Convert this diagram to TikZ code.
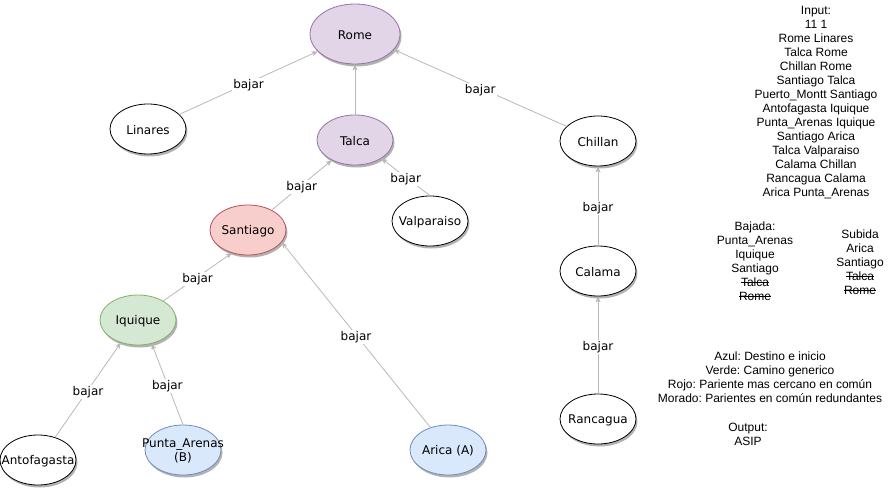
\documentclass[tikz,border=0pt]{standalone}
\usepackage{fontspec}
\setmainfont{Liberation Sans}
\newfontfamily\nodefont{DejaVu Sans}
\usetikzlibrary{shapes.geometric,arrows.meta,shadows}
\frenchspacing

\definecolor{edgegray}{HTML}{B8B8B8}
\definecolor{purplefill}{HTML}{E1D5E7}
\definecolor{purpleline}{HTML}{9673A6}
\definecolor{redfill}{HTML}{F8CECC}
\definecolor{redline}{HTML}{B85450}
\definecolor{greenfill}{HTML}{D5E8D4}
\definecolor{greenline}{HTML}{82B366}
\definecolor{bluefill}{HTML}{DAE8FC}
\definecolor{blueline}{HTML}{6C8EBF}

% struck-out word
\newsavebox\strkbox
\newcommand\strk[1]{\sbox\strkbox{#1}\rlap{\rule[0.3em]{\wd\strkbox}{0.6pt}}\usebox\strkbox}

\tikzset{
  citytext/.style={align=center, inner sep=0pt, yshift=-1pt,
    font=\nodefont\fontsize{12}{14}\selectfont},
  % fixed-size ellipse; the name is set as a centred label so long names do not widen it
  city/.style={ellipse, draw=black, fill=white, line width=0.8pt,
    minimum width=76pt, minimum height=50pt, inner sep=0pt,
    label={[citytext]center:#1},
    drop shadow={shadow xshift=1.5pt, shadow yshift=-2.5pt, fill=black, opacity=0.3}},
  redundant/.style={fill=purplefill, draw=purpleline},
  common/.style={fill=redfill, draw=redline},
  path/.style={fill=greenfill, draw=greenline},
  endpoint/.style={fill=bluefill, draw=blueline},
  edge/.style={draw=edgegray, line width=0.8pt,
    -{Stealth[length=6pt,width=5pt,inset=1.5pt]}},
  lbl/.style={fill=white, inner sep=1pt, text=black, yshift=-2pt,
    font=\nodefont\fontsize{12}{14}\selectfont},
  note/.style={align=center, inner sep=0pt, font=\fontsize{12}{14}\selectfont}
}

\begin{document}
\begin{tikzpicture}[x=1pt, y=-1pt]
\useasboundingbox (0,0) rectangle (891,489);

% cities
\node[city=Rome, redundant, minimum width=90pt, minimum height=60pt] (rome) at (355,34) {};
\node[city=Linares] (linares) at (148,129) {};
\node[city=Talca, redundant] (talca) at (355,140) {};
\node[city=Chillan] (chillan) at (598,141) {};
\node[city=Santiago, common] (santiago) at (248,230) {};
\node[city=Valparaiso] (valparaiso) at (430,221) {};
\node[city=Calama] (calama) at (598,271) {};
\node[city=Iquique, path] (iquique) at (138,320) {};
\node[city=Antofagasta] (antofagasta) at (38,460) {};
\node[city={Punta\_Arenas\\(B)}, endpoint] (punta) at (183,450) {};
\node[city={Arica (A)}, endpoint] (arica) at (448,450) {};
\node[city=Rancagua] (rancagua) at (598,419) {};

% child -> parent links
\draw[edge] (linares.25) -- node[lbl] {bajar} (rome.205);
\draw[edge] (talca.90) -- (rome.270);
\draw[edge] (chillan.155) -- node[lbl] {bajar} (rome.338);
\draw[edge] (santiago.40) -- node[lbl] {bajar} (talca.221);
\draw[edge] (valparaiso.90) -- node[lbl] {bajar} (talca.325);
\draw[edge] (iquique.37) -- node[lbl] {bajar} (santiago.235);
\draw[edge] (arica.128) -- node[lbl] {bajar} (santiago.340);
\draw[edge] (antofagasta.53) -- node[lbl] {bajar} (iquique.233);
\draw[edge] (punta.90) -- node[lbl] {bajar} (iquique.300);
\draw[edge] (calama.90) -- node[lbl] {bajar} (chillan.270);
\draw[edge] (rancagua.90) -- node[lbl] {bajar} (calama.270);

% notes
\node[note] (input) at (816,103) {Input:\\11 1\\Rome Linares\\Talca Rome\\Chillan Rome\\Santiago Talca\\Puerto\_Montt Santiago\\Antofagasta Iquique\\Punta\_Arenas Iquique\\Santiago Arica\\Talca Valparaiso\\Calama Chillan\\Rancagua Calama\\Arica Punta\_Arenas};
\node[note] (bajada) at (755,261) {Bajada:\\Punta\_Arenas\\Iquique\\Santiago\\\strk{Talca}\\\strk{Rome}};
\node[note] (subida) at (860,262) {Subida\\Arica\\Santiago\\\strk{Talca}\\\strk{Rome}};
\node[note] (legend) at (770,377) {Azul: Destino e inicio\\Verde: Camino generico\\Rojo: Pariente mas cercano en común\\Morado: Parientes en común redundantes};
\node[note] (output) at (748,434) {Output:\\ASIP};
\end{tikzpicture}
\end{document}
